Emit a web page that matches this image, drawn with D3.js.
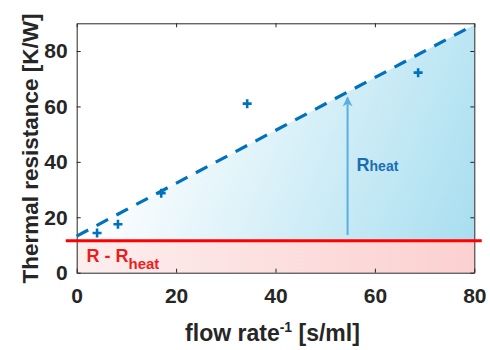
<!DOCTYPE html>
<html>
<head>
<meta charset="utf-8">
<script src="https://cdn.jsdelivr.net/npm/d3@7"></script>
<style>
  body { margin: 0; background: #fff; }
  svg text { font-family: "Liberation Sans", Arial, sans-serif; }
</style>
</head>
<body>
<svg id="chart" width="490" height="350"></svg>
<script>
// measured points (flow rate^-1 vs thermal resistance)
const pointX = [4.1, 8.3, 17.0, 34.3, 68.7];
const pointY = [14.3, 17.5, 28.7, 61.0, 72.2];
// linear fit end points
const fitX = [0, 80];
const fitY = [13.2, 89.5];
// R - Rheat level
const baseLevel = 11.5;
// Rheat arrow
const arrowX = 54.5;
const arrowY = [13.6, 63.2];
const xTicks = [0, 20, 40, 60, 80];
const yTicks = [0, 20, 40, 60, 80];

const svg = d3.select('#chart');
const plotL = 76.7, plotR = 474.3, plotT = 23.3, plotB = 272.7;

const x = d3.scaleLinear().domain([0, 80]).range([plotL, plotR]);
const y = d3.scaleLinear().domain([0, 90]).range([plotB, plotT]);

const defs = svg.append('defs');
const blueGrad = defs.append('linearGradient')
	.attr('id', 'blueGrad')
	.attr('gradientUnits', 'userSpaceOnUse')
	.attr('x1', x(12)).attr('y1', y(62))
	.attr('x2', x(80)).attr('y2', y(baseLevel));
blueGrad.append('stop').attr('offset', 0).attr('stop-color', '#ffffff');
blueGrad.append('stop').attr('offset', 1).attr('stop-color', '#a8def0');

const redGrad = defs.append('linearGradient')
	.attr('id', 'redGrad')
	.attr('x1', 0).attr('y1', 0).attr('x2', 1).attr('y2', 0);
redGrad.append('stop').attr('offset', 0).attr('stop-color', '#fdeeee');
redGrad.append('stop').attr('offset', 1).attr('stop-color', '#fcd0d0');

defs.append('marker')
	.attr('id', 'head')
	.attr('viewBox', '0 0 10 10')
	.attr('refX', 9).attr('refY', 5)
	.attr('markerWidth', 12).attr('markerHeight', 10)
	.attr('markerUnits', 'userSpaceOnUse')
	.attr('orient', 'auto')
	.append('path')
	.attr('d', 'M0,0 L10,5 L0,10 L3,5 Z')
	.attr('fill', '#5aaee0');

// fills
svg.append('path')
	.attr('d', d3.line()([[x(0), y(baseLevel)], [x(fitX[0]), y(fitY[0])], [x(fitX[1]), y(fitY[1])], [x(80), y(baseLevel)]]) + 'Z')
	.attr('fill', 'url(#blueGrad)');

svg.append('rect')
	.attr('x', x(0)).attr('y', y(baseLevel))
	.attr('width', x(80) - x(0)).attr('height', y(0) - y(baseLevel))
	.attr('fill', 'url(#redGrad)');

// axes box
const axisColor = '#262626';
const xAxis = d3.axisBottom(x).tickValues(xTicks).tickSizeInner(-4).tickSizeOuter(0).tickPadding(15);
const yAxis = d3.axisLeft(y).tickValues(yTicks).tickSizeInner(-4).tickSizeOuter(0).tickPadding(9);

const gx = svg.append('g').attr('transform', `translate(0,${plotB})`).call(xAxis);
const gy = svg.append('g').attr('transform', `translate(${plotL},0)`).call(yAxis);
svg.append('g').attr('transform', `translate(0,${plotT})`)
	.call(d3.axisTop(x).tickValues(xTicks).tickSizeInner(-4).tickSizeOuter(0).tickFormat(''));
svg.append('g').attr('transform', `translate(${plotR},0)`)
	.call(d3.axisRight(y).tickValues(yTicks).tickSizeInner(-4).tickSizeOuter(0).tickFormat(''));

svg.selectAll('.domain, .tick line').attr('stroke', axisColor);
svg.selectAll('.tick text')
	.attr('fill', axisColor)
	.style('font-size', '21px')
	.style('font-weight', 'bold');
gx.selectAll('.tick text').attr('dy', '0.71em');

// red level line
svg.append('line')
	.attr('x1', x(-2.2)).attr('x2', x(81.5))
	.attr('y1', y(baseLevel)).attr('y2', y(baseLevel))
	.attr('stroke', '#ff0000').attr('stroke-width', 3);

// fit line
svg.append('line')
	.attr('x1', x(fitX[0])).attr('y1', y(fitY[0]))
	.attr('x2', x(fitX[1])).attr('y2', y(fitY[1]))
	.attr('stroke', '#0072bd').attr('stroke-width', 3.2)
	.attr('stroke-dasharray', '13,9.5');

// crosses
svg.append('g').selectAll('path')
	.data(pointX.map((d, i) => [d, pointY[i]]))
	.join('path')
	.attr('d', d => {
		const cx = x(d[0]), cy = y(d[1]), s = 4.5;
		return `M${cx - s},${cy}H${cx + s}M${cx},${cy - s}V${cy + s}`;
	})
	.attr('stroke', '#0072bd').attr('stroke-width', 2.6);

// Rheat arrow
svg.append('line')
	.attr('x1', x(arrowX)).attr('x2', x(arrowX))
	.attr('y1', y(arrowY[0])).attr('y2', y(arrowY[1]))
	.attr('stroke', '#5aaee0').attr('stroke-width', 2)
	.attr('marker-end', 'url(#head)');

const rh = svg.append('text')
	.attr('x', x(arrowX) + 9).attr('y', 171)
	.attr('fill', '#1a6db5')
	.style('font-family', '"Liberation Sans Narrow", "Arial Narrow", sans-serif')
	.style('font-weight', 'bold');
rh.append('tspan').style('font-size', '18px').text('R');
rh.append('tspan').style('font-size', '14px').text('heat');

const rr = svg.append('text')
	.attr('x', 86.5).attr('y', 261.7)
	.attr('fill', '#ee1c1c')
	.style('font-weight', 'bold')
	.style('font-size', '18px');
rr.append('tspan').text('R - R');
rr.append('tspan').attr('dy', 7.3).style('font-size', '15px').text('heat');

// axis labels
const xl = svg.append('text')
	.attr('x', (plotL + plotR) / 2 - 3).attr('y', 341)
	.attr('text-anchor', 'middle')
	.attr('fill', axisColor)
	.style('font-weight', 'bold')
	.style('font-size', '23px');
xl.append('tspan').text('flow rate');
xl.append('tspan').attr('dy', -9).style('font-size', '14px').text('-1');
xl.append('tspan').attr('dy', 9).text(' [s/ml]');

svg.append('text')
	.attr('transform', `translate(38,148.5) rotate(-90)`)
	.attr('text-anchor', 'middle')
	.attr('fill', axisColor)
	.style('font-weight', 'bold')
	.style('font-size', '22.5px')
	.text('Thermal resistance [K/W]');
</script>
</body>
</html>
